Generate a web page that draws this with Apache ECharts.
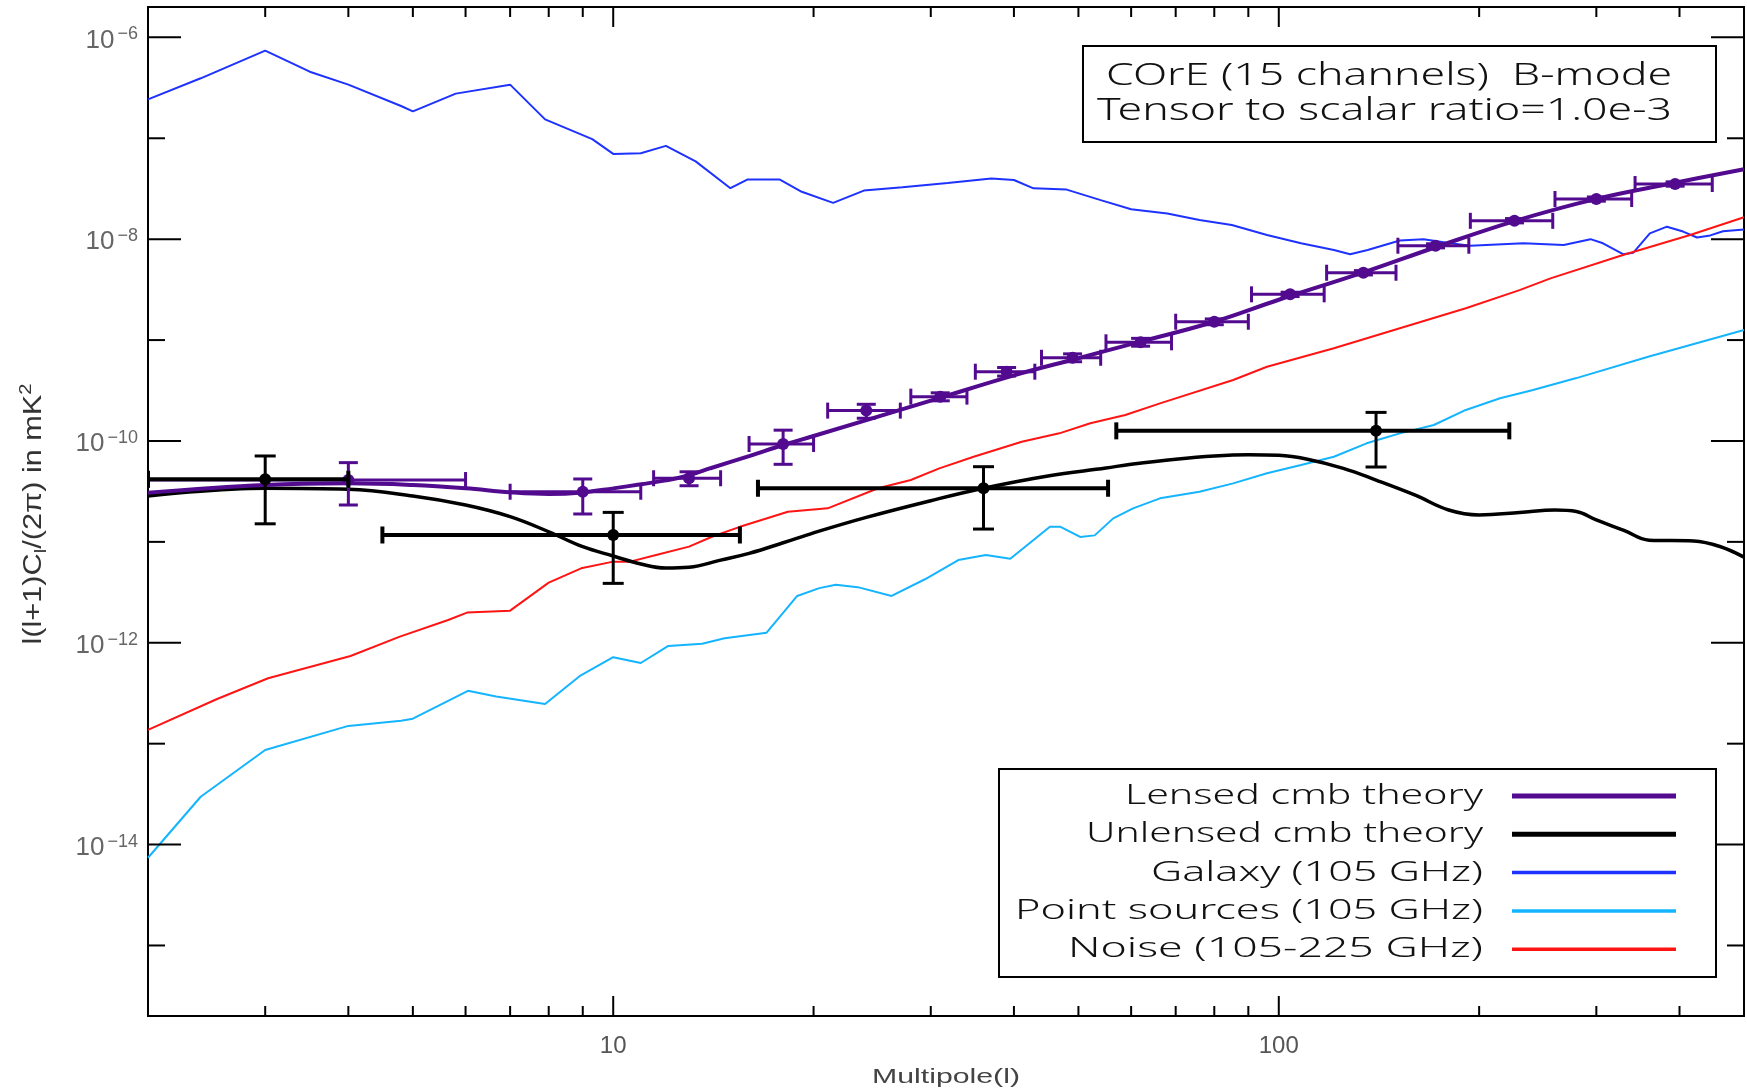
<!DOCTYPE html>
<html>
<head>
<meta charset="utf-8">
<title>COrE B-mode spectrum</title>
<script src="https://cdn.jsdelivr.net/npm/echarts@6/dist/echarts.min.js"></script>
<style>
  html, body { margin: 0; padding: 0; background: #fff; }
  #chart { width: 1747px; height: 1092px; }
</style>
</head>
<body>
<div id="chart"></div>
<script>
// Axis ranges: multipole l and l(l+1)C_l/(2pi) in mK^2
const L_MIN = 2, L_MAX = 500;
const C_MIN = 2e-16, C_MAX = 2e-6;

// Tick marks
const xTickValues = [2, 3, 4, 5, 6, 7, 8, 9, 10, 20, 30, 40, 50, 60, 70, 80, 90, 100, 200, 300, 400, 500];
const xLabelValues = [10, 100];
const yTickExponents = [-6, -7, -8, -9, -10, -11, -12, -13, -14, -15];
const yLabelExponents = [-6, -8, -10, -12, -14];

// Lensed CMB theory
const lensedL = [2, 3, 4, 5, 6, 7, 8, 9, 10, 11, 12, 13, 14, 16, 18, 20, 30, 40, 50, 60, 80, 100, 134, 172, 226, 300, 394, 500];
const lensedC = [3.07e-11, 3.66e-11, 3.8e-11, 3.66e-11, 3.4e-11, 3.1e-11, 2.98e-11, 3.09e-11, 3.39e-11, 3.72e-11, 4.07e-11, 4.57e-11, 5.37e-11, 7.08e-11, 9.12e-11, 1.12e-10, 2.51e-10, 4.47e-10, 6.61e-10, 9.12e-10, 1.52e-9, 2.51e-9, 4.68e-9, 8.32e-9, 1.51e-8, 2.51e-8, 3.63e-8, 4.93e-8];

// Unlensed CMB theory
const unlensedL = [2, 3, 4, 5, 6, 7, 8, 9, 10, 11, 12, 13, 14.5, 16, 18, 20, 24, 30, 36, 45, 55, 60, 70, 80, 90, 100, 110, 125, 140, 160, 180, 200, 230, 260, 280, 300, 330, 360, 420, 460, 500];
const unlensedC = [2.85e-11, 3.4e-11, 3.32e-11, 2.85e-11, 2.32e-11, 1.78e-11, 1.26e-11, 8.96e-12, 7.24e-12, 6.04e-12, 5.5e-12, 5.6e-12, 6.6e-12, 7.7e-12, 9.8e-12, 1.23e-11, 1.75e-11, 2.56e-11, 3.4e-11, 4.5e-11, 5.4e-11, 5.87e-11, 6.6e-11, 7.1e-11, 7.3e-11, 7.2e-11, 6.62e-11, 5.35e-11, 4.1e-11, 2.92e-11, 2.07e-11, 1.85e-11, 1.95e-11, 2.07e-11, 2.0e-11, 1.65e-11, 1.3e-11, 1.04e-11, 1.02e-11, 9.0e-12, 7.06e-12];

// Galactic foreground at 105 GHz
const galaxyL = [2, 2.4, 3, 3.5, 4, 4.8, 5, 5.8, 7, 7.9, 9.3, 10, 11, 12, 13.3, 15, 15.9, 17.8, 19.2, 21.4, 23.8, 27.2, 31.8, 37, 40, 42.8, 48, 54, 60, 68, 76, 85, 96, 108, 121, 128, 136, 152, 165, 181, 194, 233, 268, 294, 307, 329, 341, 361, 383, 405, 425, 445, 465, 500];
const galaxyC = [2.43e-7, 3.93e-7, 7.38e-7, 4.57e-7, 3.4e-7, 2.09e-7, 1.85e-7, 2.77e-7, 3.4e-7, 1.54e-7, 9.8e-8, 7.0e-8, 7.1e-8, 8.4e-8, 5.9e-8, 3.2e-8, 3.9e-8, 3.9e-8, 2.95e-8, 2.29e-8, 3.03e-8, 3.27e-8, 3.6e-8, 4.0e-8, 3.86e-8, 3.19e-8, 3.1e-8, 2.44e-8, 1.98e-8, 1.8e-8, 1.55e-8, 1.38e-8, 1.1e-8, 9.1e-9, 7.8e-9, 7.1e-9, 7.8e-9, 9.7e-9, 1.0e-8, 9.1e-9, 8.6e-9, 9.1e-9, 8.75e-9, 1.0e-8, 9.1e-9, 7.1e-9, 7.35e-9, 1.14e-8, 1.33e-8, 1.19e-8, 1.04e-8, 1.09e-8, 1.2e-8, 1.25e-8];

// Point sources at 105 GHz
const pointSrcL = [2, 2.4, 3, 4, 4.8, 5, 6.05, 6.67, 7.9, 8.9, 10, 11, 12.1, 13.6, 14.7, 17, 18.9, 20.4, 21.6, 23.3, 26.2, 29.4, 33, 36.3, 39.5, 45.3, 47, 50.3, 52.9, 56.4, 60.4, 66.3, 76, 85.4, 96, 108, 121, 135.5, 152, 171, 191, 215, 241, 280, 360, 500];
const pointSrcC = [7.4e-15, 2.98e-14, 8.65e-14, 1.5e-13, 1.69e-13, 1.77e-13, 3.34e-13, 2.94e-13, 2.47e-13, 4.66e-13, 7.2e-13, 6.3e-13, 9.3e-13, 9.8e-13, 1.11e-12, 1.26e-12, 2.91e-12, 3.48e-12, 3.75e-12, 3.56e-12, 2.91e-12, 4.26e-12, 6.6e-12, 7.4e-12, 6.8e-12, 1.41e-11, 1.41e-11, 1.12e-11, 1.16e-11, 1.71e-11, 2.15e-11, 2.7e-11, 3.14e-11, 3.8e-11, 4.78e-11, 5.78e-11, 6.98e-11, 9.48e-11, 1.19e-10, 1.44e-10, 2.03e-10, 2.65e-10, 3.2e-10, 4.2e-10, 6.87e-10, 1.26e-9];

// Instrumental noise, 105-225 GHz channels
const noiseL = [2, 2.54, 3.03, 4.03, 4.78, 5.65, 6.03, 7, 8, 8.95, 10, 10.6, 11.6, 13, 14.1, 15.5, 18.3, 21, 25, 28, 30.9, 34.8, 41.1, 46.8, 52.1, 58.8, 66.3, 85.4, 96, 121, 152, 191, 230, 256, 329, 415, 500];
const noiseC = [1.37e-13, 2.77e-13, 4.45e-13, 7.4e-13, 1.15e-12, 1.68e-12, 1.99e-12, 2.08e-12, 3.95e-12, 5.47e-12, 6.37e-12, 6.37e-12, 7.41e-12, 8.97e-12, 1.13e-11, 1.41e-11, 1.99e-11, 2.15e-11, 3.4e-11, 4.1e-11, 5.35e-11, 6.98e-11, 9.84e-11, 1.19e-10, 1.5e-10, 1.81e-10, 2.36e-10, 4.02e-10, 5.44e-10, 8.3e-10, 1.31e-9, 2.07e-9, 3.13e-9, 4.09e-9, 6.97e-9, 1.1e-8, 1.65e-8];

// Binned lensed band powers: centre, value, error range, bin edges
const lensedBinL = [4, 9, 13, 18, 24, 31, 39, 49, 62, 80, 104, 134, 172, 226, 300, 394];
const lensedBinC = [4.1e-11, 3.14e-11, 4.27e-11, 9.33e-11, 2.0e-10, 2.75e-10, 4.86e-10, 6.68e-10, 9.5e-10, 1.52e-9, 2.84e-9, 4.65e-9, 8.61e-9, 1.52e-8, 2.5e-8, 3.52e-8];
const lensedBinLo = [2.32e-11, 1.89e-11, 3.6e-11, 5.87e-11, 1.68e-10, 2.5e-10, 4.4e-10, 6.1e-10, 8.7e-10, 1.42e-9, 2.7e-9, 4.42e-9, 8.2e-9, 1.45e-8, 2.38e-8, 3.35e-8];
const lensedBinHi = [6.1e-11, 4.2e-11, 4.95e-11, 1.28e-10, 2.31e-10, 3.0e-10, 5.35e-10, 7.3e-10, 1.04e-9, 1.62e-9, 2.98e-9, 4.88e-9, 9.0e-9, 1.6e-8, 2.62e-8, 3.7e-8];
const lensedBinLmin = [2, 7, 11.5, 16, 21, 28, 35, 44, 55, 70, 91, 118, 151, 194, 260, 343];
const lensedBinLmax = [6, 11, 14.5, 20, 27, 34, 43, 54, 69, 90, 117, 150, 193, 258, 339, 448];

// Binned unlensed band powers
const unlensedBinL = [3, 10, 36, 140];
const unlensedBinC = [4.17e-11, 1.17e-11, 3.4e-11, 1.26e-10];
const unlensedBinLo = [1.51e-11, 3.88e-12, 1.34e-11, 5.52e-11];
const unlensedBinHi = [7.1e-11, 1.96e-11, 5.56e-11, 1.92e-10];
const unlensedBinLmin = [2, 4.5, 16.5, 57];
const unlensedBinLmax = [4, 15.5, 55.4, 222];

// ---------------------------------------------------------------
const COLORS = {
  lensed: '#520a8f',
  unlensed: '#000000',
  galaxy: '#1e32ff',
  pointSrc: '#14b4ff',
  noise: '#ff1414'
};

const zip = (xs, ys) => xs.map((x, i) => [x, ys[i]]);
const zipBins = (l, c, lo, hi, l0, l1) => l.map((v, i) => [v, c[i], lo[i], hi[i], l0[i], l1[i]]);

const measureCtx = document.createElement('canvas').getContext('2d');
function textWidth(text, size, family, weight) {
  measureCtx.font = (weight || 'normal') + ' ' + size + 'px ' + family;
  return measureCtx.measureText(text).width;
}
// text style carrying both the current and the older property names
function txt(o) {
  const s = Object.assign({}, o);
  if (s.align) s.textAlign = s.align;
  if (s.verticalAlign) s.textVerticalAlign = s.verticalAlign;
  return s;
}

function errorBarRenderer(st) {
  return function (params, api) {
    const l = api.value(0), c = api.value(1);
    const p = api.coord([l, c]);
    const pt = api.coord([l, api.value(3)]);
    const pb = api.coord([l, api.value(2)]);
    const pl = api.coord([api.value(4), c]);
    const pr = api.coord([api.value(5), c]);
    const seg = (x1, y1, x2, y2, w) => ({
      type: 'line', shape: { x1, y1, x2, y2 },
      style: { stroke: st.color, lineWidth: w, lineCap: 'butt' }
    });
    return {
      type: 'group',
      children: [
        seg(pl[0], p[1], pr[0], p[1], st.hWidth),
        seg(pl[0], p[1] - st.capH, pl[0], p[1] + st.capH, st.hWidth),
        seg(pr[0], p[1] - st.capH, pr[0], p[1] + st.capH, st.hWidth),
        seg(p[0], pt[1], p[0], pb[1], st.vWidth),
        seg(p[0] - st.capW, pt[1], p[0] + st.capW, pt[1], st.vWidth),
        seg(p[0] - st.capW, pb[1], p[0] + st.capW, pb[1], st.vWidth),
        { type: 'circle', shape: { cx: p[0], cy: p[1], r: st.r }, style: { fill: st.color } }
      ]
    };
  };
}

const TICK_STYLE = { stroke: '#000', lineWidth: 2 };
const LABEL_FONT = 'Liberation Sans';

function renderXTick(params, api) {
  const v = api.value(0);
  const major = api.value(2) === 1;
  const b = api.coord([v, C_MIN]);
  const t = api.coord([v, C_MAX]);
  const len = major ? 20 : 10;
  const children = [
    { type: 'line', shape: { x1: b[0], y1: b[1], x2: b[0], y2: b[1] - len }, style: TICK_STYLE },
    { type: 'line', shape: { x1: t[0], y1: t[1], x2: t[0], y2: t[1] + len }, style: TICK_STYLE }
  ];
  if (major) {
    children.push({
      type: 'text', x: b[0], y: b[1] + 30,
      style: txt({ text: String(v), fontSize: 24, fontFamily: LABEL_FONT, fill: '#555',
                   align: 'center', verticalAlign: 'middle' })
    });
  }
  return { type: 'group', children };
}

function renderYTick(params, api) {
  const e = api.value(2);
  const v = api.value(1);
  const labelled = yLabelExponents.indexOf(e) >= 0;
  const lft = api.coord([L_MIN, v]);
  const rgt = api.coord([L_MAX, v]);
  const len = labelled ? 33 : 17;
  const children = [
    { type: 'line', shape: { x1: lft[0], y1: lft[1], x2: lft[0] + len, y2: lft[1] }, style: TICK_STYLE },
    { type: 'line', shape: { x1: rgt[0], y1: rgt[1], x2: rgt[0] - len, y2: rgt[1] }, style: TICK_STYLE }
  ];
  if (labelled) {
    children.push({
      type: 'text', x: lft[0] - 10, y: lft[1] + 3,
      style: txt({
        text: '{b|10}{s|\u2212' + Math.abs(e) + '}',
        align: 'right', verticalAlign: 'middle', fill: '#666',
        rich: {
          b: { fontSize: 26, fontFamily: LABEL_FONT, fill: '#666', lineHeight: 30 },
          s: { fontSize: 18, fontFamily: LABEL_FONT, fill: '#666', lineHeight: 16,
               verticalAlign: 'top', padding: [0, 0, 0, 3] }
        }
      })
    });
  }
  return { type: 'group', children };
}

// ---------------------------------------------------------------
// Title box and legend
const TEXT_FONT = "'Noto Sans', 'DejaVu Sans'";
const TEXT_WEIGHT = 300;
const titleLines = [
  { text: 'COrE (15 channels)  B-mode', x: 1106, y: 76, width: 566 },
  { text: 'Tensor to scalar ratio=1.0e-3', x: 1097, y: 111, width: 575 }
];
const legendRows = [
  { text: 'Lensed cmb theory', color: COLORS.lensed, lw: 5, width: 358 },
  { text: 'Unlensed cmb theory', color: COLORS.unlensed, lw: 5, width: 397 },
  { text: 'Galaxy (105 GHz)', color: COLORS.galaxy, lw: 3.5, width: 332 },
  { text: 'Point sources (105 GHz)', color: COLORS.pointSrc, lw: 3.5, width: 468 },
  { text: 'Noise (105-225 GHz)', color: COLORS.noise, lw: 3.5, width: 415 }
];

const graphics = [];
graphics.push({ type: 'rect', z: 20, shape: { x: 1083, y: 46, width: 633, height: 96 },
  style: { fill: '#fff', stroke: '#000', lineWidth: 2 } });
titleLines.forEach(t => {
  const w = textWidth(t.text, 32, TEXT_FONT, TEXT_WEIGHT);
  graphics.push({ type: 'text', z: 21, x: t.x, y: t.y, scaleX: t.width / w,
    style: txt({ text: t.text, fontSize: 32, fontFamily: TEXT_FONT, fontWeight: TEXT_WEIGHT,
                 fill: '#111', align: 'left', verticalAlign: 'middle' }) });
});
graphics.push({ type: 'rect', z: 20, shape: { x: 999, y: 769, width: 717, height: 208 },
  style: { fill: '#fff', stroke: '#000', lineWidth: 2 } });
legendRows.forEach((r, i) => {
  const y = 796 + i * 38.3;
  const w = textWidth(r.text, 28, TEXT_FONT, TEXT_WEIGHT);
  graphics.push({ type: 'text', z: 21, x: 1483, y: y, scaleX: r.width / w,
    style: txt({ text: r.text, fontSize: 28, fontFamily: TEXT_FONT, fontWeight: TEXT_WEIGHT,
                 fill: '#111', align: 'right', verticalAlign: 'middle' }) });
  graphics.push({ type: 'line', z: 21, shape: { x1: 1512, y1: y, x2: 1676, y2: y },
    style: { stroke: r.color, lineWidth: r.lw } });
});

// Axis titles
const xTitle = 'Multipole(l)';
graphics.push({ type: 'text', z: 21, x: 946, y: 1077,
  scaleX: 148 / textWidth(xTitle, 20, LABEL_FONT),
  style: txt({ text: xTitle, fontSize: 20, fontFamily: LABEL_FONT, fill: '#444',
               align: 'center', verticalAlign: 'middle' }) });

const yTitleParts = ['l(l+1)C', 'l', '/(2\u03c0) in mK', '2'];
const yTitleW = textWidth(yTitleParts[0], 26, LABEL_FONT) + textWidth(yTitleParts[1], 17, LABEL_FONT)
              + textWidth(yTitleParts[2], 26, LABEL_FONT) + textWidth(yTitleParts[3], 17, LABEL_FONT);
graphics.push({ type: 'text', z: 21, x: 34, y: 514, rotation: Math.PI / 2,
  scaleX: 261 / yTitleW,
  style: txt({
    text: '{a|' + yTitleParts[0] + '}{b|' + yTitleParts[1] + '}{a|' + yTitleParts[2] + '}{c|' + yTitleParts[3] + '}',
    align: 'center', verticalAlign: 'middle', fill: '#333',
    rich: {
      a: { fontSize: 26, fontFamily: LABEL_FONT, fill: '#333', lineHeight: 32 },
      b: { fontSize: 17, fontFamily: LABEL_FONT, fill: '#333', lineHeight: 16, verticalAlign: 'bottom' },
      c: { fontSize: 17, fontFamily: LABEL_FONT, fill: '#333', lineHeight: 14, verticalAlign: 'top' }
    }
  }) });

// ---------------------------------------------------------------
const chart = echarts.init(document.getElementById('chart'));

const hiddenAxis = {
  axisLine: { show: false }, axisTick: { show: false },
  axisLabel: { show: false }, splitLine: { show: false }
};

const option = {
  animation: false,
  backgroundColor: '#fff',
  grid: {
    left: 148, right: 3, top: 7, bottom: 76,
    show: true, borderColor: '#000', borderWidth: 2, backgroundColor: 'transparent',
    containLabel: false, outerBoundsMode: 'none'
  },
  xAxis: Object.assign({ type: 'log', logBase: 10, min: L_MIN, max: L_MAX }, hiddenAxis),
  yAxis: Object.assign({ type: 'log', logBase: 10, min: C_MIN, max: C_MAX }, hiddenAxis),
  graphic: { elements: graphics },
  series: [
    { name: 'Galaxy (105 GHz)', type: 'line', z: 2, data: zip(galaxyL, galaxyC),
      showSymbol: false, silent: true, lineStyle: { color: COLORS.galaxy, width: 2 } },
    { name: 'Point sources (105 GHz)', type: 'line', z: 2, data: zip(pointSrcL, pointSrcC),
      showSymbol: false, silent: true, lineStyle: { color: COLORS.pointSrc, width: 2 } },
    { name: 'Noise (105-225 GHz)', type: 'line', z: 2, data: zip(noiseL, noiseC),
      showSymbol: false, silent: true, lineStyle: { color: COLORS.noise, width: 2 } },
    { name: 'Unlensed cmb theory', type: 'line', z: 3, data: zip(unlensedL, unlensedC),
      showSymbol: false, silent: true, smooth: 0.4,
      lineStyle: { color: COLORS.unlensed, width: 3.5 } },
    { name: 'Lensed cmb theory', type: 'line', z: 4, data: zip(lensedL, lensedC),
      showSymbol: false, silent: true, smooth: 0.4,
      lineStyle: { color: COLORS.lensed, width: 4 } },
    { name: 'Lensed band powers', type: 'custom', z: 5, silent: true, clip: true,
      encode: { x: [0, 4, 5], y: [1, 2, 3] },
      data: zipBins(lensedBinL, lensedBinC, lensedBinLo, lensedBinHi, lensedBinLmin, lensedBinLmax),
      renderItem: errorBarRenderer({ color: COLORS.lensed, hWidth: 3, vWidth: 3, capH: 8, capW: 9.5, r: 6 }) },
    { name: 'Unlensed band powers', type: 'custom', z: 6, silent: true, clip: true,
      encode: { x: [0, 4, 5], y: [1, 2, 3] },
      data: zipBins(unlensedBinL, unlensedBinC, unlensedBinLo, unlensedBinHi, unlensedBinLmin, unlensedBinLmax),
      renderItem: errorBarRenderer({ color: COLORS.unlensed, hWidth: 4, vWidth: 3, capH: 8.5, capW: 10.5, r: 6 }) },
    { name: 'x ticks', type: 'custom', z: 7, silent: true, clip: false,
      encode: { x: 0, y: 1 },
      data: xTickValues.map(v => [v, C_MIN, xLabelValues.indexOf(v) >= 0 ? 1 : 0]),
      renderItem: renderXTick },
    { name: 'y ticks', type: 'custom', z: 7, silent: true, clip: false,
      encode: { x: 0, y: 1 },
      data: yTickExponents.map(e => [L_MIN, Math.pow(10, e), e]),
      renderItem: renderYTick }
  ]
};

chart.setOption(option);
</script>
</body>
</html>
